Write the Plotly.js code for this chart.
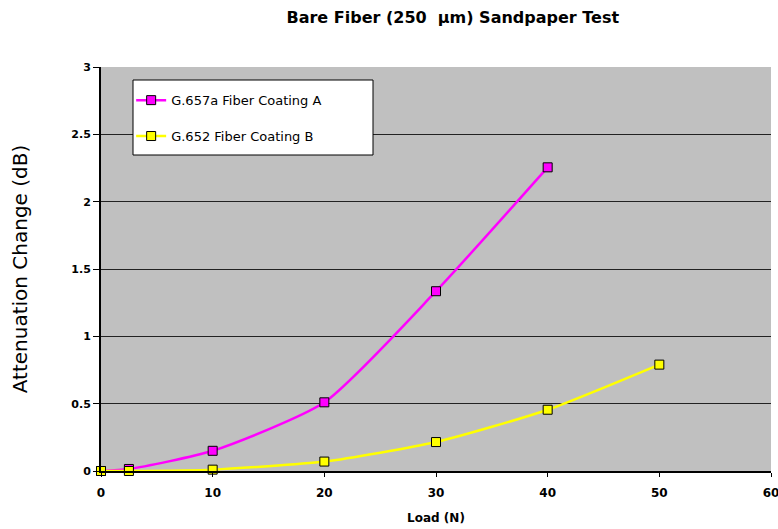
<!DOCTYPE html>
<html>
<head>
<meta charset="utf-8">
<script src="https://cdn.plot.ly/plotly-3.0.1.min.js"></script>
<style>html,body{margin:0;padding:0;background:#fff;}#chart{width:778px;height:529px;}</style>
</head>
<body>
<div id="chart"></div>
<script>
const loadA = [0, 2.5, 10, 20, 30, 40];
const attenA = [0.0, 0.015, 0.15, 0.51, 1.335, 2.255];
const loadB = [0, 2.5, 10, 20, 30, 40, 50];
const attenB = [0.0, 0.0, 0.01, 0.07, 0.215, 0.455, 0.79];
const nameA = "G.657a Fiber Coating A";
const nameB = "G.652 Fiber Coating B";
const xTicks = [0, 10, 20, 30, 40, 50, 60];
const yTicks = [0, 0.5, 1, 1.5, 2, 2.5, 3];
const yTickText = ["0", "0.5", "1", "1.5", "2", "2.5", "3"];

const font = "DejaVu Sans, Verdana, sans-serif";

const traces = [
  {
    x: loadA, y: attenA, name: nameA, type: "scatter", mode: "lines+markers",
    legendgroup: "a",
    line: {color: "#FF00FF", width: 2.5, shape: "spline", smoothing: 0.6},
    marker: {symbol: "square", size: 9, color: "#FF00FF", line: {color: "#000000", width: 1}},
    cliponaxis: false
  },
  {
    x: loadB, y: attenB, name: nameB, type: "scatter", mode: "lines+markers",
    legendgroup: "b",
    line: {color: "#FFFF00", width: 2.5, shape: "spline", smoothing: 0.6},
    marker: {symbol: "square", size: 9, color: "#FFFF00", line: {color: "#000000", width: 1}},
    cliponaxis: false
  }
];

const layout = {
  width: 778, height: 529,
  margin: {l: 101, r: 7, t: 67, b: 58},
  paper_bgcolor: "#FFFFFF",
  plot_bgcolor: "#C0C0C0",
  font: {family: font, color: "#000000", size: 11},
  title: {
    text: "<b>Bare Fiber (250  µm) Sandpaper Test</b>",
    font: {family: font, size: 16, color: "#000000"},
    x: 0.582, xanchor: "center", xref: "container",
    y: 0.967, yanchor: "middle", yref: "container"
  },
  xaxis: {
    range: [0, 60], tickvals: xTicks, ticktext: xTicks.map(String),
    ticklabeloverflow: "allow",
    showgrid: false, zeroline: false,
    showline: true, linecolor: "#000000", linewidth: 2,
    ticks: "outside", ticklen: 4, tickcolor: "#000000", tickwidth: 1,
    ticklabelstandoff: 6,
    tickfont: {family: font, size: 12, color: "#000000", weight: "bold"},
    title: {text: "<b>Load (N)</b>", font: {family: font, size: 12, color: "#000000"}, standoff: 14}
  },
  yaxis: {
    range: [0, 3], tickvals: yTicks, ticktext: yTickText,
    showgrid: true, gridcolor: "#222222", gridwidth: 1,
    zeroline: false,
    showline: true, linecolor: "#000000", linewidth: 2,
    ticks: "outside", ticklen: 6, tickcolor: "#000000", tickwidth: 1,
    tickfont: {family: font, size: 11, color: "#000000", weight: "bold"},
    title: {text: "Attenuation Change (dB)", font: {family: font, size: 20, color: "#000000"}, standoff: 38}
  },
  showlegend: true,
  legend: {
    x: 0.045, y: 0.955, xanchor: "left", yanchor: "top",
    bgcolor: "rgba(0,0,0,0)", borderwidth: 0,
    font: {family: font, size: 13, color: "#000000"},
    itemwidth: 30, tracegroupgap: 16, traceorder: "grouped"
  },
  shapes: [
    {type: "rect", xref: "paper", yref: "paper", layer: "above",
     x0: (133 - 101) / 670, x1: (373 - 101) / 670,
     y0: (471 - 155) / 404, y1: (471 - 80) / 404,
     fillcolor: "#FFFFFF", line: {color: "#000000", width: 1}}
  ]
};

Plotly.newPlot("chart", traces, layout, {displayModeBar: false, staticPlot: true});
</script>
</body>
</html>
